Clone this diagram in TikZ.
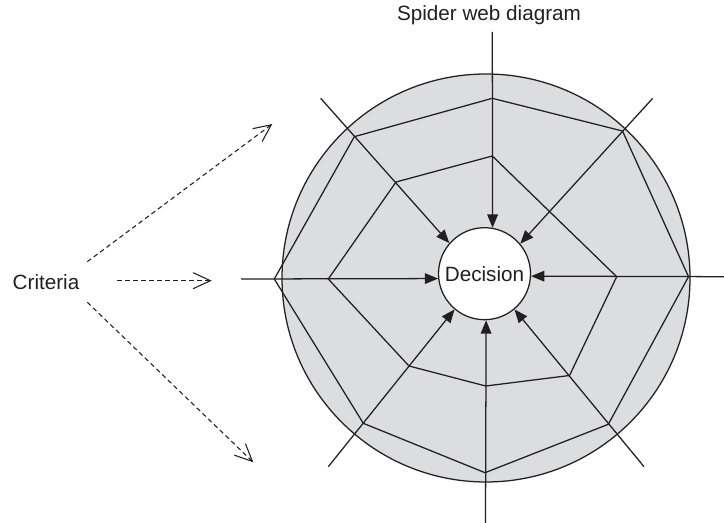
\documentclass[tikz,border=0pt]{standalone}
\usepackage{fontspec}
\setmainfont{Liberation Sans}
\usetikzlibrary{arrows.meta}
\definecolor{webgray}{HTML}{DCDDDF}
\definecolor{inkblack}{HTML}{231F20}

\tikzset{
  txtlabel/.style={font=\fontsize{15.5}{18}\selectfont, text=inkblack},
  web/.style={draw=inkblack, line width=0.95pt},
  spoke/.style={draw=inkblack, line width=0.95pt, -{Triangle[length=10pt,width=8pt]}},
  critarrow/.style={draw=inkblack, line width=0.8pt, dash pattern=on 3.5pt off 2.5pt, -{Straight Barb[length=13pt,width=12pt]}}
}

\begin{document}
\begin{tikzpicture}[x=0.75pt, y=-0.75pt]
  \useasboundingbox (0,0) rectangle (724,523);
  % Titulo
  \node[txtlabel] (title) at (489,15) {Spider web diagram};
  % Disco exterior
  \draw[fill=webgray, draw=inkblack, line width=0.95pt] (486,278) circle (204);
  % Decision central
  \node[txtlabel, circle, draw=inkblack, fill=white, line width=0.95pt, minimum size=69pt, inner sep=0pt] (decision) at (484.5,273.7) {Decision};
  % Tela exterior e interior
  \draw[web] (492.3,98.3) -- (622.5,131) -- (688.5,276.7) -- (608.3,424.3) -- (485,472.7) -- (363.3,423.3) -- (274.3,279) -- (354.3,136.7) -- cycle;
  \draw[web] (492.3,156) -- (616.7,276.7) -- (569.5,375.5) -- (485.7,386) -- (409,366) -- (328.3,279) -- (396,182) -- cycle;
  % Radios hacia la decision
  \coordinate (s1) at (492.3,32);
  \coordinate (s2) at (652.7,98.3);
  \coordinate (s3) at (724,276.7);
  \coordinate (s4) at (644,466.7);
  \coordinate (s5) at (485.5,523);
  \coordinate (s6) at (328.3,466.7);
  \coordinate (s7) at (241,279);
  \coordinate (s8) at (320.7,98.3);
  \foreach \s/\a in {s1/80.8, s2/40.2, s3/-3.5, s4/-50.3, s5/-88.6, s6/-130.7, s7/-174, s8/139}
    \draw[spoke] (\s) -- (decision.\a);
  % Criterios
  \node[txtlabel] (criteria) at (46,282) {Criteria};
  \coordinate (c1) at (87.3,261.7);
  \coordinate (c2) at (117.3,280.7);
  \coordinate (c3) at (87.3,302.3);
  \coordinate (t1) at (272.3,124);
  \coordinate (t2) at (211.7,280.7);
  \coordinate (t3) at (253.3,462.3);
  \draw[critarrow] (c1) -- (t1);
  \draw[critarrow] (c2) -- (t2);
  \draw[critarrow] (c3) -- (t3);
\end{tikzpicture}
\end{document}
